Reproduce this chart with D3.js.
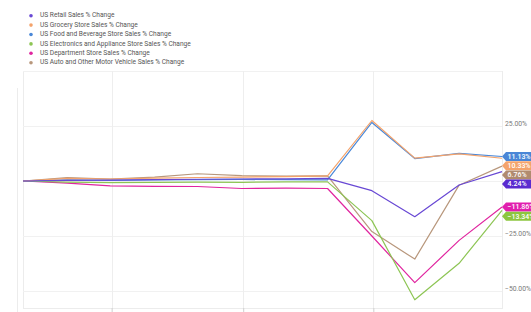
<!DOCTYPE html>
<html>
<head>
<meta charset="utf-8">
<script src="https://cdn.jsdelivr.net/npm/d3@7"></script>
<style>
  html, body { margin: 0; padding: 0; background: #fff; }
  svg { display: block; font-family: Roboto, "Open Sans", sans-serif; }
</style>
</head>
<body>
<div id="chart"></div>
<script>
// month-end observations, % change since Jul 2019
const dates = ["2019-07-31", "2019-08-31", "2019-09-30", "2019-10-31", "2019-11-30", "2019-12-31",
  "2020-01-31", "2020-02-29", "2020-03-31", "2020-04-30", "2020-05-31", "2020-06-30"];
const seriesNames = [
  "US Retail Sales % Change",
  "US Grocery Store Sales % Change",
  "US Food and Beverage Store Sales % Change",
  "US Electronics and Appliance Store Sales % Change",
  "US Department Store Sales % Change",
  "US Auto and Other Motor Vehicle Sales % Change"
];
const retail = [0, 0.3, 0.4, 0.6, 0.8, 0.9, 1.0, 1.2, -4.4, -16.2, -1.8, 4.24];
const grocery = [0, 1.2, 0.9, 1.3, 1.6, 1.8, 2.0, 2.3, 27.5, 10.4, 12.3, 10.33];
const foodBev = [0, 0.5, 0.3, 0.5, 0.6, 0.7, 0.6, 0.5, 26.6, 10.2, 12.6, 11.13];
const electronics = [0, -0.5, -0.7, -0.6, -0.5, -0.6, -0.4, -0.4, -18.0, -54.0, -37.4, -13.34];
const department = [0, -1.0, -2.2, -2.4, -2.5, -3.4, -3.2, -3.4, -25.0, -46.2, -27.0, -11.86];
const auto = [0, 1.5, 0.9, 1.8, 3.3, 2.4, 2.2, 2.3, -23.0, -35.5, -1.9, 6.76];
const gridTicks = [50, 25, 0, -25, -50];
const labelTicks = [25, -25, -50]; // 0.00% sits under the value tags
const xTicks = ["2019-10-01", "2020-01-01", "2020-04-01"];

const colors = ["#6848d4", "#f4a36b", "#4a88d8", "#8dc554", "#e0259f", "#b8977c"];
const tagColors = ["#5a2bcf", "#f4a36b", "#4a86d6", "#8cc63f", "#e11fae", "#b08b6f"];

const width = 531, height = 312;
const plot = { left: 23, right: 502, top: 71, bottom: 308 };

const parse = d3.timeParse("%Y-%m-%d");
const values = [retail, grocery, foodBev, electronics, department, auto];
const series = seriesNames.map((name, i) => ({
  name: name,
  color: colors[i],
  tag: tagColors[i],
  points: dates.map((d, j) => ({ date: parse(d), v: values[i][j] }))
}));

const svg = d3.select("#chart").append("svg")
  .attr("width", width)
  .attr("height", height);

const x = d3.scaleTime()
  .domain(d3.extent(dates, parse))
  .range([plot.left, plot.right]);
const y = d3.scaleLinear()
  .domain([-50, 50])
  .range([291, 71]);

// outer container edge
svg.append("line")
  .attr("x1", 17.5).attr("x2", 17.5)
  .attr("y1", 88).attr("y2", height)
  .attr("stroke", "#ececec");

// frame + grid
const grid = svg.append("g");
grid.append("rect")
  .attr("x", plot.left + 0.5).attr("y", plot.top + 0.5)
  .attr("width", plot.right - plot.left).attr("height", plot.bottom - plot.top)
  .attr("fill", "none").attr("stroke", "#ececec");
grid.selectAll("line.h").data(gridTicks).enter().append("line")
  .attr("class", "h")
  .attr("x1", plot.left).attr("x2", plot.right)
  .attr("y1", d => Math.round(y(d)) + 0.5).attr("y2", d => Math.round(y(d)) + 0.5)
  .attr("stroke", "#f1f1f1");
grid.selectAll("line.v").data(xTicks.map(parse)).enter().append("line")
  .attr("class", "v")
  .attr("x1", d => Math.round(x(d)) + 0.5).attr("x2", d => Math.round(x(d)) + 0.5)
  .attr("y1", plot.top).attr("y2", plot.bottom)
  .attr("stroke", "#eeeeee");

// bottom axis ticks (date labels fall below the crop)
const xAxis = svg.append("g")
  .attr("transform", `translate(0,${plot.bottom})`)
  .call(d3.axisBottom(x).tickValues(xTicks.map(parse)).tickSize(5).tickFormat(""));
xAxis.select(".domain").remove();
xAxis.selectAll(".tick line").attr("stroke", "#cfcfcf");

// right axis labels
svg.append("g").selectAll("text").data(labelTicks).enter().append("text")
  .attr("x", 505)
  .attr("y", d => y(d) - 2)
  .attr("dominant-baseline", "middle")
  .attr("font-size", 6.8)
  .attr("fill", "#7a7a7a")
  .text(d => d3.format(".2f")(d) + "%");

// lines
const line = d3.line()
  .x(d => x(d.date))
  .y(d => y(d.v));
svg.append("g").selectAll("path").data(series.slice().reverse()).enter().append("path")
  .attr("d", d => line(d.points))
  .attr("fill", "none")
  .attr("stroke", d => d.color)
  .attr("stroke-width", 1.2)
  .attr("stroke-linejoin", "round");

// end value tags, pushed apart so they don't overlap
const tagH = 9, gap = 9.2;
const tags = series.map(s => ({ s: s, v: s.points[s.points.length - 1].v }))
  .sort((a, b) => b.v - a.v);
let prev = -Infinity;
tags.forEach(t => {
  t.y = Math.max(y(t.v), prev + gap);
  prev = t.y;
});
const tg = svg.append("g").selectAll("g").data(tags).enter().append("g")
  .attr("transform", d => `translate(${plot.right},${d.y})`);
tg.append("path")
  .attr("d", `M0,0 L4,${-tagH / 2} L40,${-tagH / 2} L40,${tagH / 2} L4,${tagH / 2} Z`)
  .attr("fill", d => d.s.tag);
tg.append("text")
  .attr("x", 5.5)
  .attr("y", 0.4)
  .attr("dominant-baseline", "middle")
  .attr("font-size", 7)
  .attr("font-weight", 500)
  .attr("fill", "#fff")
  .text(d => d3.format(".2f")(d.v) + "%");

// legend
const legend = svg.append("g").selectAll("g").data(series).enter().append("g")
  .attr("transform", (d, i) => `translate(31,${15.7 + i * 9.4})`);
legend.append("circle")
  .attr("r", 1.8)
  .attr("fill", d => d.color);
legend.append("text")
  .attr("x", 9)
  .attr("dominant-baseline", "middle")
  .attr("font-size", 6.6)
  .attr("fill", "#555")
  .text(d => d.name);
</script>
</body>
</html>
